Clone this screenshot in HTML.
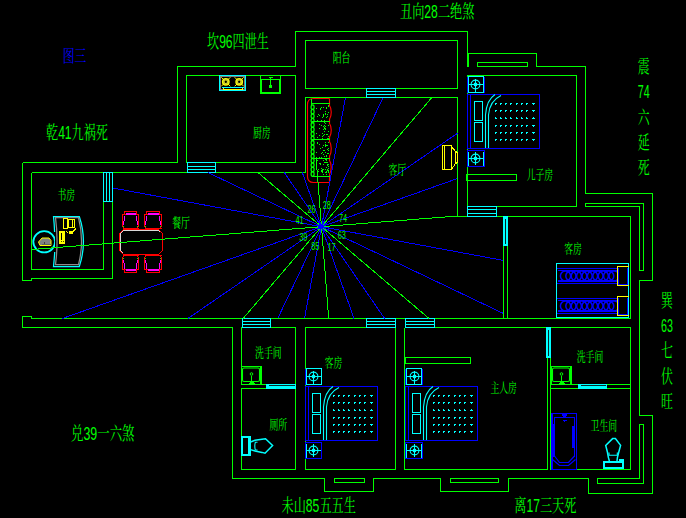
<!DOCTYPE html>
<html><head><meta charset="utf-8"><title>plan</title>
<style>html,body{margin:0;padding:0;background:#000;font-family:"Liberation Sans",sans-serif}svg{display:block}svg text{font-family:"Liberation Sans","Noto Serif CJK SC",serif}</style>
</head><body>
<svg width="686" height="518" viewBox="0 0 686 518" shape-rendering="crispEdges">
<defs></defs>
<rect width="686" height="518" fill="#000"/>
<path d="M22.5 162.5 L22.5 280.5 L31.5 280.5 L31.5 278.5 L112.5 278.5 L112.5 201.5" stroke="#00ff00" stroke-width="1" fill="none"/>
<path d="M31.5 172.5 L31.5 269.5 L103.5 269.5 L103.5 201.5" stroke="#00ff00" stroke-width="1" fill="none"/>
<path d="M31.5 172.5 L305.5 172.5" stroke="#00ff00" stroke-width="1" fill="none"/>
<path d="M22.5 162.5 L177.5 162.5 L177.5 66.5 L295.5 66.5 L295.5 31.5 L467.5 31.5 L467.5 66.5" stroke="#00ff00" stroke-width="1" fill="none"/>
<path d="M186.5 75.5 L295.5 75.5 L295.5 162.5 L186.5 162.5Z" stroke="#00ff00" stroke-width="1" fill="none"/>
<rect x="305.5" y="40.5" width="152" height="48" stroke="#00ff00" stroke-width="1" fill="none"/>
<path d="M305.5 172.5 L305.5 97.5 L457.5 97.5 L457.5 216.5" stroke="#00ff00" stroke-width="1" fill="none"/>
<path d="M468.5 66.5 L468.5 53.5 L536.5 53.5 L536.5 66.5 L585.5 66.5 L585.5 193.5 L652.5 193.5 L652.5 280.5 L639.5 280.5 L639.5 415.5 L652.5 415.5 L652.5 493.5 L588.5 493.5 L588.5 478.5 L508.5 478.5 L508.5 491.5 L440.5 491.5 L440.5 478.5 L373.5 478.5 L373.5 491.5 L324.5 491.5 L324.5 478.5 L232.5 478.5 L232.5 327.5 L22.5 327.5 L22.5 316.5 L31.5 316.5 L31.5 318.5 L630.5 318.5" stroke="#00ff00" stroke-width="1" fill="none"/>
<path d="M467.5 216.5 L467.5 75.5 L576.5 75.5 L576.5 206.5 L496.5 206.5" stroke="#00ff00" stroke-width="1" fill="none"/>
<path d="M457.5 216.5 L630.5 216.5 L630.5 318.5" stroke="#00ff00" stroke-width="1" fill="none"/>
<path d="M503.5 216.5 L503.5 318.5" stroke="#00ff00" stroke-width="1" fill="none"/>
<path d="M507.5 216.5 L507.5 318.5" stroke="#00ff00" stroke-width="1" fill="none"/>
<rect x="477.5" y="62.5" width="50" height="4" stroke="#00ff00" stroke-width="1" fill="none"/>
<path d="M585.5 203.5 L643.5 203.5 L643.5 270.5 L639.5 270.5 L639.5 206.5 L585.5 206.5Z" stroke="#00ff00" stroke-width="1" fill="none"/>
<path d="M643.5 424.5 L643.5 483.5 L597.5 483.5 L597.5 478.5 L639.5 478.5 L639.5 424.5Z" stroke="#00ff00" stroke-width="1" fill="none"/>
<rect x="334.5" y="478.5" width="30" height="4" stroke="#00ff00" stroke-width="1" fill="none"/>
<rect x="450.5" y="478.5" width="48" height="4" stroke="#00ff00" stroke-width="1" fill="none"/>
<rect x="466.5" y="174.5" width="50" height="6" stroke="#00ff00" stroke-width="1" fill="none"/>
<rect x="405.5" y="357.5" width="65" height="6" stroke="#00ff00" stroke-width="1" fill="none"/>
<path d="M241.5 327.5 L295.5 327.5 L295.5 384.5 L241.5 384.5Z" stroke="#00ff00" stroke-width="1" fill="none"/>
<path d="M241.5 388.5 L295.5 388.5 L295.5 469.5 L241.5 469.5Z" stroke="#00ff00" stroke-width="1" fill="none"/>
<rect x="305.5" y="327.5" width="90" height="142" stroke="#00ff00" stroke-width="1" fill="none"/>
<path d="M404.5 327.5 L404.5 469.5 L547.5 469.5 L547.5 327.5" stroke="#00ff00" stroke-width="1" fill="none"/>
<path d="M395.5 318.5 L395.5 327.5" stroke="#00ff00" stroke-width="1" fill="none"/>
<path d="M404.5 327.5 L630.5 327.5 L630.5 469.5 L550.5 469.5 L550.5 327.5" stroke="#00ff00" stroke-width="1" fill="none"/>
<path d="M550.5 384.5 L630.5 384.5" stroke="#00ff00" stroke-width="1" fill="none"/>
<path d="M550.5 388.5 L630.5 388.5" stroke="#00ff00" stroke-width="1" fill="none"/>
<rect x="103.5" y="172.5" width="9" height="29" stroke="#00ffff" stroke-width="1" fill="none"/>
<path d="M106.5 172.5 L106.5 201.5" stroke="#00ffff" stroke-width="1" fill="none"/>
<path d="M109.5 172.5 L109.5 201.5" stroke="#00ffff" stroke-width="1" fill="none"/>
<rect x="187.5" y="162.5" width="28" height="10" stroke="#00ffff" stroke-width="1" fill="none"/>
<path d="M187.5 166.5 L215.5 166.5" stroke="#00ffff" stroke-width="1" fill="none"/>
<path d="M187.5 169.5 L215.5 169.5" stroke="#00ffff" stroke-width="1" fill="none"/>
<rect x="366.5" y="88.5" width="29" height="9" stroke="#00ffff" stroke-width="1" fill="none"/>
<path d="M366.5 91.5 L395.5 91.5" stroke="#00ffff" stroke-width="1" fill="none"/>
<path d="M366.5 94.5 L395.5 94.5" stroke="#00ffff" stroke-width="1" fill="none"/>
<rect x="467.5" y="206.5" width="29" height="10" stroke="#00ffff" stroke-width="1" fill="none"/>
<path d="M467.5 209.5 L496.5 209.5" stroke="#00ffff" stroke-width="1" fill="none"/>
<path d="M467.5 213.5 L496.5 213.5" stroke="#00ffff" stroke-width="1" fill="none"/>
<rect x="242.5" y="318.5" width="28" height="9" stroke="#00ffff" stroke-width="1" fill="none"/>
<path d="M242.5 321.5 L270.5 321.5" stroke="#00ffff" stroke-width="1" fill="none"/>
<path d="M242.5 324.5 L270.5 324.5" stroke="#00ffff" stroke-width="1" fill="none"/>
<rect x="366.5" y="318.5" width="29" height="9" stroke="#00ffff" stroke-width="1" fill="none"/>
<path d="M366.5 321.5 L395.5 321.5" stroke="#00ffff" stroke-width="1" fill="none"/>
<path d="M366.5 324.5 L395.5 324.5" stroke="#00ffff" stroke-width="1" fill="none"/>
<rect x="405.5" y="318.5" width="29" height="9" stroke="#00ffff" stroke-width="1" fill="none"/>
<path d="M405.5 321.5 L434.5 321.5" stroke="#00ffff" stroke-width="1" fill="none"/>
<path d="M405.5 324.5 L434.5 324.5" stroke="#00ffff" stroke-width="1" fill="none"/>
<rect x="503.5" y="216.5" width="4" height="29" stroke="#00ffff" stroke-width="1" fill="#00ffff"/>
<path d="M505.5 218.5 L505.5 243.5" stroke="#002020" stroke-width="1" fill="none"/>
<rect x="546.5" y="327.5" width="4" height="30" stroke="#00ffff" stroke-width="1" fill="#00ffff"/>
<path d="M548.5 329.5 L548.5 355.5" stroke="#002828" stroke-width="1" fill="none"/>
<rect x="266.5" y="384.5" width="29" height="4" stroke="#00ffff" stroke-width="1" fill="#00ffff"/>
<path d="M268.5 385.5 L294.5 385.5" stroke="#003030" stroke-width="1" fill="none"/>
<rect x="578.5" y="384.5" width="28" height="4" stroke="#00ffff" stroke-width="1" fill="#00ffff"/>
<path d="M580.5 385.5 L605.5 385.5" stroke="#003030" stroke-width="1" fill="none"/>
<rect x="219.5" y="75.5" width="26" height="15" stroke="#00ffff" stroke-width="1" fill="none"/>
<rect x="220.5" y="76.5" width="24" height="13" stroke="#808080" stroke-width="1" fill="none"/>
<g shape-rendering="geometricPrecision"><path d="M221.3 77.3 l9 9 M230.3 77.3 l-9 9" stroke="#ffff00" stroke-width="1"/><circle cx="225.8" cy="81.8" r="3.9" fill="#ffff00"/><circle cx="225.8" cy="81.8" r="2.3" fill="none" stroke="#9a9a60" stroke-width="0.7"/><circle cx="225.8" cy="81.8" r="1.2" fill="#000"/></g>
<g shape-rendering="geometricPrecision"><path d="M234.7 77.3 l9 9 M243.7 77.3 l-9 9" stroke="#ffff00" stroke-width="1"/><circle cx="239.2" cy="81.8" r="3.9" fill="#ffff00"/><circle cx="239.2" cy="81.8" r="2.3" fill="none" stroke="#9a9a60" stroke-width="0.7"/><circle cx="239.2" cy="81.8" r="1.2" fill="#000"/></g>
<path d="M221.5 87.5 L243.5 87.5" stroke="#00ffff" stroke-width="1" fill="none"/>
<path d="M223.5 89.5 L242.5 89.5" stroke="#ffff00" stroke-width="1" fill="none"/>
<path d="M223.5 87.5 L223.5 89.5" stroke="#ffff00" stroke-width="1" fill="none"/>
<path d="M242.5 87.5 L242.5 89.5" stroke="#ffff00" stroke-width="1" fill="none"/>
<rect x="260.5" y="75.5" width="20" height="18" stroke="#00ff00" stroke-width="1" fill="none"/>
<rect x="261.5" y="79.5" width="18" height="13" stroke="#00ff00" stroke-width="1" fill="none"/>
<path d="M270.5 76.5 L270.5 86.5" stroke="#00ff00" stroke-width="1" fill="none"/>
<rect x="269.5" y="85.5" width="2" height="2" stroke="#00ff00" stroke-width="1" fill="none"/>
<path d="M268.5 77.5 L272.5 77.5" stroke="#00ff00" stroke-width="1" fill="none"/>
<path d="M329.5 98.5 H313.5 Q307.5 98.5 307.5 104.5 V176.5 Q307.5 182.5 313.5 182.5 H329.5" stroke="#ff0000" fill="none" shape-rendering="geometricPrecision" stroke-width="1.15"/>
<path d="M329.5 98.5 V103.5 L329.5 105.5 C331.8 108.5 331.8 115.5 329.6 119 L329.5 121.5 L329.5 123.5 C331.8 126.5 331.8 133.5 329.6 137 L329.5 139.5 L329.5 141.5 C331.8 144.5 331.8 152.5 329.6 156 L329.5 158.5 L329.5 160.5 C331.8 163.5 331.8 170.5 329.6 174 L329.5 176.5 V182.5" stroke="#ff0000" fill="none" shape-rendering="geometricPrecision" stroke-width="1.15"/>
<path d="M311.5 98.5 L311.5 104.5" stroke="#00ff00" stroke-width="1" fill="none"/>
<path d="M311.5 103.5 L329.5 103.5" stroke="#00ff00" stroke-width="1" fill="none"/>
<path d="M311.5 121.5 L329.5 121.5" stroke="#00ff00" stroke-width="1" fill="none"/>
<path d="M311.5 139.5 L329.5 139.5" stroke="#00ff00" stroke-width="1" fill="none"/>
<path d="M311.5 158.5 L329.5 158.5" stroke="#00ff00" stroke-width="1" fill="none"/>
<path d="M311.5 176.5 L329.5 176.5" stroke="#00ff00" stroke-width="1" fill="none"/>
<g stroke="#00ff00" fill="none" stroke-width="1.25" shape-rendering="geometricPrecision"><ellipse cx="312.6" cy="107.2" rx="1.5" ry="2.3"/><ellipse cx="312.6" cy="111.65" rx="1.5" ry="2.3"/><ellipse cx="312.6" cy="116.1" rx="1.5" ry="2.3"/><ellipse cx="312.6" cy="120.55" rx="1.5" ry="2.3"/><ellipse cx="312.6" cy="125" rx="1.5" ry="2.3"/><ellipse cx="312.6" cy="129.45" rx="1.5" ry="2.3"/><ellipse cx="312.6" cy="133.9" rx="1.5" ry="2.3"/><ellipse cx="312.6" cy="138.35" rx="1.5" ry="2.3"/><ellipse cx="312.6" cy="142.8" rx="1.5" ry="2.3"/><ellipse cx="312.6" cy="147.25" rx="1.5" ry="2.3"/><ellipse cx="312.6" cy="151.7" rx="1.5" ry="2.3"/><ellipse cx="312.6" cy="156.15" rx="1.5" ry="2.3"/><ellipse cx="312.6" cy="160.6" rx="1.5" ry="2.3"/><ellipse cx="312.6" cy="165.05" rx="1.5" ry="2.3"/><ellipse cx="312.6" cy="169.5" rx="1.5" ry="2.3"/><ellipse cx="312.6" cy="173.95" rx="1.5" ry="2.3"/></g>
<g fill="#00ff00"><rect x="326" y="156" width="1" height="1"/><rect x="327" y="170" width="1" height="1"/><rect x="327" y="169" width="1" height="1"/><rect x="317" y="137" width="1" height="1"/><rect x="328" y="150" width="1" height="1"/><rect x="328" y="112" width="1" height="1"/><rect x="324" y="122" width="1" height="1"/><rect x="325" y="145" width="1" height="1"/><rect x="317" y="120" width="1" height="1"/><rect x="322" y="169" width="1" height="1"/><rect x="327" y="116" width="1" height="1"/><rect x="327" y="114" width="1" height="1"/><rect x="325" y="113" width="1" height="1"/><rect x="316" y="165" width="1" height="1"/><rect x="321" y="120" width="1" height="1"/><rect x="328" y="166" width="1" height="1"/><rect x="322" y="172" width="1" height="1"/><rect x="325" y="152" width="1" height="1"/><rect x="321" y="170" width="1" height="1"/><rect x="326" y="172" width="1" height="1"/><rect x="328" y="125" width="1" height="1"/><rect x="323" y="116" width="1" height="1"/><rect x="320" y="109" width="1" height="1"/><rect x="322" y="147" width="1" height="1"/><rect x="316" y="152" width="1" height="1"/><rect x="323" y="126" width="1" height="1"/><rect x="327" y="138" width="1" height="1"/><rect x="322" y="138" width="1" height="1"/><rect x="326" y="108" width="1" height="1"/><rect x="328" y="106" width="1" height="1"/><rect x="327" y="164" width="1" height="1"/><rect x="317" y="160" width="1" height="1"/><rect x="323" y="145" width="1" height="1"/><rect x="316" y="108" width="1" height="1"/><rect x="321" y="171" width="1" height="1"/><rect x="321" y="157" width="1" height="1"/><rect x="328" y="170" width="1" height="1"/><rect x="323" y="129" width="1" height="1"/><rect x="325" y="159" width="1" height="1"/><rect x="319" y="157" width="1" height="1"/><rect x="327" y="165" width="1" height="1"/><rect x="318" y="171" width="1" height="1"/><rect x="319" y="128" width="1" height="1"/><rect x="325" y="169" width="1" height="1"/><rect x="323" y="169" width="1" height="1"/><rect x="325" y="126" width="1" height="1"/><rect x="322" y="117" width="1" height="1"/><rect x="319" y="115" width="1" height="1"/><rect x="326" y="174" width="1" height="1"/><rect x="320" y="108" width="1" height="1"/><rect x="328" y="142" width="1" height="1"/><rect x="323" y="121" width="1" height="1"/><rect x="325" y="162" width="1" height="1"/><rect x="324" y="134" width="1" height="1"/><rect x="318" y="169" width="1" height="1"/><rect x="317" y="139" width="1" height="1"/><rect x="327" y="114" width="1" height="1"/><rect x="326" y="171" width="1" height="1"/><rect x="326" y="160" width="1" height="1"/><rect x="319" y="135" width="1" height="1"/><rect x="320" y="164" width="1" height="1"/><rect x="322" y="136" width="1" height="1"/><rect x="328" y="164" width="1" height="1"/><rect x="328" y="136" width="1" height="1"/><rect x="324" y="156" width="1" height="1"/><rect x="324" y="125" width="1" height="1"/><rect x="323" y="115" width="1" height="1"/><rect x="323" y="174" width="1" height="1"/><rect x="328" y="148" width="1" height="1"/><rect x="324" y="128" width="1" height="1"/><rect x="319" y="124" width="1" height="1"/><rect x="327" y="165" width="1" height="1"/><rect x="323" y="160" width="1" height="1"/><rect x="327" y="153" width="1" height="1"/><rect x="326" y="158" width="1" height="1"/><rect x="323" y="154" width="1" height="1"/><rect x="322" y="138" width="1" height="1"/><rect x="327" y="153" width="1" height="1"/><rect x="322" y="171" width="1" height="1"/><rect x="326" y="145" width="1" height="1"/><rect x="317" y="143" width="1" height="1"/><rect x="322" y="152" width="1" height="1"/><rect x="324" y="162" width="1" height="1"/><rect x="326" y="160" width="1" height="1"/><rect x="323" y="150" width="1" height="1"/><rect x="326" y="162" width="1" height="1"/><rect x="323" y="164" width="1" height="1"/><rect x="328" y="153" width="1" height="1"/><rect x="328" y="171" width="1" height="1"/><rect x="325" y="142" width="1" height="1"/><rect x="320" y="163" width="1" height="1"/><rect x="328" y="138" width="1" height="1"/><rect x="326" y="155" width="1" height="1"/><rect x="326" y="117" width="1" height="1"/><rect x="327" y="145" width="1" height="1"/><rect x="326" y="134" width="1" height="1"/><rect x="326" y="159" width="1" height="1"/><rect x="326" y="155" width="1" height="1"/><rect x="317" y="116" width="1" height="1"/><rect x="324" y="150" width="1" height="1"/><rect x="321" y="153" width="1" height="1"/><rect x="326" y="107" width="1" height="1"/><rect x="324" y="120" width="1" height="1"/><rect x="318" y="114" width="1" height="1"/><rect x="322" y="117" width="1" height="1"/><rect x="321" y="107" width="1" height="1"/><rect x="324" y="131" width="1" height="1"/><rect x="325" y="146" width="1" height="1"/><rect x="321" y="168" width="1" height="1"/><rect x="316" y="133" width="1" height="1"/><rect x="322" y="133" width="1" height="1"/><rect x="319" y="163" width="1" height="1"/><rect x="323" y="107" width="1" height="1"/><rect x="325" y="111" width="1" height="1"/><rect x="325" y="128" width="1" height="1"/><rect x="325" y="172" width="1" height="1"/><rect x="327" y="134" width="1" height="1"/><rect x="327" y="149" width="1" height="1"/><rect x="323" y="114" width="1" height="1"/><rect x="325" y="144" width="1" height="1"/><rect x="328" y="172" width="1" height="1"/><rect x="325" y="129" width="1" height="1"/><rect x="328" y="105" width="1" height="1"/><rect x="319" y="144" width="1" height="1"/><rect x="325" y="114" width="1" height="1"/><rect x="326" y="167" width="1" height="1"/><rect x="323" y="135" width="1" height="1"/><rect x="321" y="125" width="1" height="1"/><rect x="328" y="131" width="1" height="1"/><rect x="328" y="168" width="1" height="1"/><rect x="325" y="123" width="1" height="1"/><rect x="328" y="139" width="1" height="1"/><rect x="324" y="127" width="1" height="1"/><rect x="328" y="139" width="1" height="1"/><rect x="322" y="138" width="1" height="1"/><rect x="320" y="148" width="1" height="1"/><rect x="324" y="125" width="1" height="1"/><rect x="327" y="162" width="1" height="1"/><rect x="317" y="142" width="1" height="1"/><rect x="322" y="170" width="1" height="1"/></g>
<rect x="442.5" y="145.5" width="9" height="24" stroke="#ffff00" stroke-width="1" fill="none"/>
<path d="M444.5 145.5 L444.5 169.5" stroke="#ffff00" stroke-width="1" fill="none"/>
<path d="M451.5 146.5 L455.5 151.5 L457.5 152.5 L457.5 162.5 L455.5 163.5 L451.5 169.5" stroke="#ffff00" stroke-width="1" fill="none"/>
<path d="M455.5 151.5 L455.5 163.5" stroke="#ffff00" stroke-width="1" fill="none"/>
<path d="M467.5 76.5 L467.5 92.5" stroke="#0000ff" stroke-width="1" fill="none"/>
<path d="M484.5 76.5 L484.5 92.5" stroke="#0000ff" stroke-width="1" fill="none"/>
<rect x="468.5" y="76.5" width="15" height="16" stroke="#00ffff" stroke-width="1" fill="none"/>
<circle cx="475.5" cy="84.5" r="4.4" stroke="#00ffff" fill="none" stroke-width="1.1" shape-rendering="geometricPrecision"/>
<circle cx="475.5" cy="84.5" r="1.9" fill="#00ffff" shape-rendering="geometricPrecision"/>
<path d="M468.5 84.5 L483.5 84.5" stroke="#00ffff" stroke-width="1" fill="none"/>
<path d="M475.5 78.5 L475.5 92.5" stroke="#00ffff" stroke-width="1" fill="none"/>
<rect x="467.5" y="94.5" width="72" height="54" stroke="#0000ff" stroke-width="1" fill="none"/>
<path d="M470.5 94.5 L470.5 148.5" stroke="#0000ff" stroke-width="1" fill="none"/>
<rect x="474.5" y="101.5" width="8" height="19" stroke="#00ffff" stroke-width="1" fill="none"/>
<rect x="474.5" y="122.5" width="8" height="19" stroke="#00ffff" stroke-width="1" fill="none"/>
<path d="M485.5 148 V115 Q486.5 100 495 94.5" stroke="#00ffff" fill="none" stroke-width="1.1" shape-rendering="geometricPrecision"/>
<path d="M488.5 148 V115 Q489.5 101 501 95.5" stroke="#00ffff" fill="none" stroke-width="1.1" shape-rendering="geometricPrecision"/>
<g fill="#00ffff"><path d="M495 103 h2 v1 h-1 v1 h-1z"/><path d="M500 103 h2 v1 h-1 v1 h-1z"/><path d="M505 103 h2 v1 h-1 v1 h-1z"/><path d="M510 103 h2 v1 h-1 v1 h-1z"/><path d="M516 103 h2 v1 h-1 v1 h-1z"/><path d="M521 103 h2 v1 h-1 v1 h-1z"/><path d="M526 103 h2 v1 h-1 v1 h-1z"/><path d="M532 103 h3 v1 h-1 v1 h-1 v-1 h-1z"/><path d="M495 110 h2 v1 h-1 v1 h-1z"/><path d="M500 110 h2 v1 h-1 v1 h-1z"/><path d="M505 110 h2 v1 h-1 v1 h-1z"/><path d="M510 110 h2 v1 h-1 v1 h-1z"/><path d="M516 110 h2 v1 h-1 v1 h-1z"/><path d="M521 110 h2 v1 h-1 v1 h-1z"/><path d="M526 110 h2 v1 h-1 v1 h-1z"/><path d="M532 110 h3 v1 h-1 v1 h-1 v-1 h-1z"/><path d="M495 117 h1 v1 h1 v1 h-2z"/><path d="M500 117 h1 v1 h1 v1 h-2z"/><path d="M505 117 h1 v1 h1 v1 h-2z"/><path d="M510 117 h1 v1 h1 v1 h-2z"/><path d="M516 117 h1 v1 h1 v1 h-2z"/><path d="M521 117 h1 v1 h1 v1 h-2z"/><path d="M526 117 h1 v1 h1 v1 h-2z"/><path d="M533 117 h1 v1 h1 v1 h-3 v-1 h1z"/><path d="M495 125 h2 v1 h-1 v1 h-1z"/><path d="M500 125 h2 v1 h-1 v1 h-1z"/><path d="M505 125 h2 v1 h-1 v1 h-1z"/><path d="M510 125 h2 v1 h-1 v1 h-1z"/><path d="M516 125 h2 v1 h-1 v1 h-1z"/><path d="M521 125 h2 v1 h-1 v1 h-1z"/><path d="M526 125 h2 v1 h-1 v1 h-1z"/><path d="M532 125 h3 v1 h-1 v1 h-1 v-1 h-1z"/><path d="M495 132 h2 v1 h-1 v1 h-1z"/><path d="M500 132 h2 v1 h-1 v1 h-1z"/><path d="M505 132 h2 v1 h-1 v1 h-1z"/><path d="M510 132 h2 v1 h-1 v1 h-1z"/><path d="M516 132 h2 v1 h-1 v1 h-1z"/><path d="M521 132 h2 v1 h-1 v1 h-1z"/><path d="M526 132 h2 v1 h-1 v1 h-1z"/><path d="M532 132 h3 v1 h-1 v1 h-1 v-1 h-1z"/><path d="M495 139 h2 v1 h-1 v1 h-1z"/><path d="M500 139 h2 v1 h-1 v1 h-1z"/><path d="M505 139 h2 v1 h-1 v1 h-1z"/><path d="M510 139 h2 v1 h-1 v1 h-1z"/><path d="M516 139 h2 v1 h-1 v1 h-1z"/><path d="M521 139 h2 v1 h-1 v1 h-1z"/><path d="M526 139 h2 v1 h-1 v1 h-1z"/><path d="M532 139 h3 v1 h-1 v1 h-1 v-1 h-1z"/></g>
<rect x="467.5" y="150.5" width="17" height="16" stroke="#0000ff" stroke-width="1" fill="none"/>
<path d="M468.5 151.5 L468.5 165.5" stroke="#00ffff" stroke-width="1" fill="none"/>
<path d="M483.5 151.5 L483.5 165.5" stroke="#00ffff" stroke-width="1" fill="none"/>
<circle cx="475.5" cy="158.5" r="4.4" stroke="#00ffff" fill="none" stroke-width="1.1" shape-rendering="geometricPrecision"/>
<circle cx="475.5" cy="158.5" r="1.9" fill="#00ffff" shape-rendering="geometricPrecision"/>
<path d="M468.5 158.5 L483.5 158.5" stroke="#00ffff" stroke-width="1" fill="none"/>
<path d="M475.5 151.5 L475.5 164.5" stroke="#00ffff" stroke-width="1" fill="none"/>
<path d="M305.5 368.5 L305.5 384.5" stroke="#0000ff" stroke-width="1" fill="none"/>
<rect x="306.5" y="368.5" width="15" height="16" stroke="#00ffff" stroke-width="1" fill="none"/>
<circle cx="313.5" cy="376.5" r="4.4" stroke="#00ffff" fill="none" stroke-width="1.1" shape-rendering="geometricPrecision"/>
<circle cx="313.5" cy="376.5" r="1.9" fill="#00ffff" shape-rendering="geometricPrecision"/>
<path d="M306.5 376.5 L321.5 376.5" stroke="#00ffff" stroke-width="1" fill="none"/>
<path d="M313.5 370.5 L313.5 384.5" stroke="#00ffff" stroke-width="1" fill="none"/>
<rect x="305.5" y="386.5" width="72" height="54" stroke="#0000ff" stroke-width="1" fill="none"/>
<path d="M308.5 386.5 L308.5 440.5" stroke="#0000ff" stroke-width="1" fill="none"/>
<rect x="312.5" y="393.5" width="8" height="19" stroke="#00ffff" stroke-width="1" fill="none"/>
<rect x="312.5" y="414.5" width="8" height="19" stroke="#00ffff" stroke-width="1" fill="none"/>
<path d="M323.5 440 V407 Q324.5 392 333 386.5" stroke="#00ffff" fill="none" stroke-width="1.1" shape-rendering="geometricPrecision"/>
<path d="M326.5 440 V407 Q327.5 393 339 387.5" stroke="#00ffff" fill="none" stroke-width="1.1" shape-rendering="geometricPrecision"/>
<g fill="#00ffff"><path d="M333 395 h2 v1 h-1 v1 h-1z"/><path d="M338 395 h2 v1 h-1 v1 h-1z"/><path d="M343 395 h2 v1 h-1 v1 h-1z"/><path d="M348 395 h2 v1 h-1 v1 h-1z"/><path d="M354 395 h2 v1 h-1 v1 h-1z"/><path d="M359 395 h2 v1 h-1 v1 h-1z"/><path d="M364 395 h2 v1 h-1 v1 h-1z"/><path d="M370 395 h3 v1 h-1 v1 h-1 v-1 h-1z"/><path d="M333 402 h2 v1 h-1 v1 h-1z"/><path d="M338 402 h2 v1 h-1 v1 h-1z"/><path d="M343 402 h2 v1 h-1 v1 h-1z"/><path d="M348 402 h2 v1 h-1 v1 h-1z"/><path d="M354 402 h2 v1 h-1 v1 h-1z"/><path d="M359 402 h2 v1 h-1 v1 h-1z"/><path d="M364 402 h2 v1 h-1 v1 h-1z"/><path d="M370 402 h3 v1 h-1 v1 h-1 v-1 h-1z"/><path d="M333 409 h1 v1 h1 v1 h-2z"/><path d="M338 409 h1 v1 h1 v1 h-2z"/><path d="M343 409 h1 v1 h1 v1 h-2z"/><path d="M348 409 h1 v1 h1 v1 h-2z"/><path d="M354 409 h1 v1 h1 v1 h-2z"/><path d="M359 409 h1 v1 h1 v1 h-2z"/><path d="M364 409 h1 v1 h1 v1 h-2z"/><path d="M371 409 h1 v1 h1 v1 h-3 v-1 h1z"/><path d="M333 417 h2 v1 h-1 v1 h-1z"/><path d="M338 417 h2 v1 h-1 v1 h-1z"/><path d="M343 417 h2 v1 h-1 v1 h-1z"/><path d="M348 417 h2 v1 h-1 v1 h-1z"/><path d="M354 417 h2 v1 h-1 v1 h-1z"/><path d="M359 417 h2 v1 h-1 v1 h-1z"/><path d="M364 417 h2 v1 h-1 v1 h-1z"/><path d="M370 417 h3 v1 h-1 v1 h-1 v-1 h-1z"/><path d="M333 424 h2 v1 h-1 v1 h-1z"/><path d="M338 424 h2 v1 h-1 v1 h-1z"/><path d="M343 424 h2 v1 h-1 v1 h-1z"/><path d="M348 424 h2 v1 h-1 v1 h-1z"/><path d="M354 424 h2 v1 h-1 v1 h-1z"/><path d="M359 424 h2 v1 h-1 v1 h-1z"/><path d="M364 424 h2 v1 h-1 v1 h-1z"/><path d="M370 424 h3 v1 h-1 v1 h-1 v-1 h-1z"/><path d="M333 431 h2 v1 h-1 v1 h-1z"/><path d="M338 431 h2 v1 h-1 v1 h-1z"/><path d="M343 431 h2 v1 h-1 v1 h-1z"/><path d="M348 431 h2 v1 h-1 v1 h-1z"/><path d="M354 431 h2 v1 h-1 v1 h-1z"/><path d="M359 431 h2 v1 h-1 v1 h-1z"/><path d="M364 431 h2 v1 h-1 v1 h-1z"/><path d="M370 431 h3 v1 h-1 v1 h-1 v-1 h-1z"/></g>
<rect x="305.5" y="442.5" width="16" height="16" stroke="#0000ff" stroke-width="1" fill="none"/>
<path d="M306.5 443.5 L306.5 457.5" stroke="#00ffff" stroke-width="1" fill="none"/>
<circle cx="313.5" cy="450.5" r="4.4" stroke="#00ffff" fill="none" stroke-width="1.1" shape-rendering="geometricPrecision"/>
<circle cx="313.5" cy="450.5" r="1.9" fill="#00ffff" shape-rendering="geometricPrecision"/>
<path d="M306.5 450.5 L320.5 450.5" stroke="#00ffff" stroke-width="1" fill="none"/>
<path d="M313.5 443.5 L313.5 456.5" stroke="#00ffff" stroke-width="1" fill="none"/>
<path d="M405.5 368.5 L405.5 384.5" stroke="#0000ff" stroke-width="1" fill="none"/>
<path d="M422.5 368.5 L422.5 384.5" stroke="#0000ff" stroke-width="1" fill="none"/>
<rect x="406.5" y="368.5" width="15" height="16" stroke="#00ffff" stroke-width="1" fill="none"/>
<circle cx="414.5" cy="376.5" r="4.4" stroke="#00ffff" fill="none" stroke-width="1.1" shape-rendering="geometricPrecision"/>
<circle cx="414.5" cy="376.5" r="1.9" fill="#00ffff" shape-rendering="geometricPrecision"/>
<path d="M406.5 376.5 L421.5 376.5" stroke="#00ffff" stroke-width="1" fill="none"/>
<path d="M414.5 370.5 L414.5 384.5" stroke="#00ffff" stroke-width="1" fill="none"/>
<rect x="405.5" y="386.5" width="72" height="54" stroke="#0000ff" stroke-width="1" fill="none"/>
<path d="M408.5 386.5 L408.5 440.5" stroke="#0000ff" stroke-width="1" fill="none"/>
<rect x="412.5" y="393.5" width="8" height="19" stroke="#00ffff" stroke-width="1" fill="none"/>
<rect x="412.5" y="414.5" width="8" height="19" stroke="#00ffff" stroke-width="1" fill="none"/>
<path d="M423.5 440 V407 Q424.5 392 433 386.5" stroke="#00ffff" fill="none" stroke-width="1.1" shape-rendering="geometricPrecision"/>
<path d="M426.5 440 V407 Q427.5 393 439 387.5" stroke="#00ffff" fill="none" stroke-width="1.1" shape-rendering="geometricPrecision"/>
<g fill="#00ffff"><path d="M433 395 h2 v1 h-1 v1 h-1z"/><path d="M438 395 h2 v1 h-1 v1 h-1z"/><path d="M443 395 h2 v1 h-1 v1 h-1z"/><path d="M448 395 h2 v1 h-1 v1 h-1z"/><path d="M454 395 h2 v1 h-1 v1 h-1z"/><path d="M459 395 h2 v1 h-1 v1 h-1z"/><path d="M464 395 h2 v1 h-1 v1 h-1z"/><path d="M470 395 h3 v1 h-1 v1 h-1 v-1 h-1z"/><path d="M433 402 h2 v1 h-1 v1 h-1z"/><path d="M438 402 h2 v1 h-1 v1 h-1z"/><path d="M443 402 h2 v1 h-1 v1 h-1z"/><path d="M448 402 h2 v1 h-1 v1 h-1z"/><path d="M454 402 h2 v1 h-1 v1 h-1z"/><path d="M459 402 h2 v1 h-1 v1 h-1z"/><path d="M464 402 h2 v1 h-1 v1 h-1z"/><path d="M470 402 h3 v1 h-1 v1 h-1 v-1 h-1z"/><path d="M433 409 h1 v1 h1 v1 h-2z"/><path d="M438 409 h1 v1 h1 v1 h-2z"/><path d="M443 409 h1 v1 h1 v1 h-2z"/><path d="M448 409 h1 v1 h1 v1 h-2z"/><path d="M454 409 h1 v1 h1 v1 h-2z"/><path d="M459 409 h1 v1 h1 v1 h-2z"/><path d="M464 409 h1 v1 h1 v1 h-2z"/><path d="M471 409 h1 v1 h1 v1 h-3 v-1 h1z"/><path d="M433 417 h2 v1 h-1 v1 h-1z"/><path d="M438 417 h2 v1 h-1 v1 h-1z"/><path d="M443 417 h2 v1 h-1 v1 h-1z"/><path d="M448 417 h2 v1 h-1 v1 h-1z"/><path d="M454 417 h2 v1 h-1 v1 h-1z"/><path d="M459 417 h2 v1 h-1 v1 h-1z"/><path d="M464 417 h2 v1 h-1 v1 h-1z"/><path d="M470 417 h3 v1 h-1 v1 h-1 v-1 h-1z"/><path d="M433 424 h2 v1 h-1 v1 h-1z"/><path d="M438 424 h2 v1 h-1 v1 h-1z"/><path d="M443 424 h2 v1 h-1 v1 h-1z"/><path d="M448 424 h2 v1 h-1 v1 h-1z"/><path d="M454 424 h2 v1 h-1 v1 h-1z"/><path d="M459 424 h2 v1 h-1 v1 h-1z"/><path d="M464 424 h2 v1 h-1 v1 h-1z"/><path d="M470 424 h3 v1 h-1 v1 h-1 v-1 h-1z"/><path d="M433 431 h2 v1 h-1 v1 h-1z"/><path d="M438 431 h2 v1 h-1 v1 h-1z"/><path d="M443 431 h2 v1 h-1 v1 h-1z"/><path d="M448 431 h2 v1 h-1 v1 h-1z"/><path d="M454 431 h2 v1 h-1 v1 h-1z"/><path d="M459 431 h2 v1 h-1 v1 h-1z"/><path d="M464 431 h2 v1 h-1 v1 h-1z"/><path d="M470 431 h3 v1 h-1 v1 h-1 v-1 h-1z"/></g>
<rect x="405.5" y="442.5" width="17" height="16" stroke="#0000ff" stroke-width="1" fill="none"/>
<path d="M406.5 443.5 L406.5 457.5" stroke="#00ffff" stroke-width="1" fill="none"/>
<path d="M421.5 443.5 L421.5 457.5" stroke="#00ffff" stroke-width="1" fill="none"/>
<circle cx="414.5" cy="450.5" r="4.4" stroke="#00ffff" fill="none" stroke-width="1.1" shape-rendering="geometricPrecision"/>
<circle cx="414.5" cy="450.5" r="1.9" fill="#00ffff" shape-rendering="geometricPrecision"/>
<path d="M406.5 450.5 L421.5 450.5" stroke="#00ffff" stroke-width="1" fill="none"/>
<path d="M414.5 443.5 L414.5 456.5" stroke="#00ffff" stroke-width="1" fill="none"/>
<rect x="556.5" y="263.5" width="72" height="54" stroke="#00ffff" stroke-width="1" fill="none"/>
<path d="M556.5 268.5 L617.5 268.5" stroke="#0000ff" stroke-width="1" fill="none"/>
<path d="M556.5 283.5 L617.5 283.5" stroke="#0000ff" stroke-width="1" fill="none"/>
<path d="M557.5 270.5 L617.5 270.5" stroke="#0000ff" stroke-width="1" fill="none"/>
<path d="M557.5 281.5 L617.5 281.5Z" stroke="#0000ff" stroke-width="1" fill="none"/>
<path d="M557.5 280.5 L617.5 280.5Z" stroke="#0000ff" stroke-width="1" fill="none"/>
<clipPath id="q268"><rect x="557" y="270" width="60" height="12"/></clipPath>
<g stroke="#0000ff" fill="none" stroke-width="1.5" clip-path="url(#q268)" shape-rendering="geometricPrecision"><circle cx="565.5" cy="276" r="5.1"/><circle cx="570.9" cy="276" r="5.1"/><circle cx="576.3" cy="276" r="5.1"/><circle cx="581.7" cy="276" r="5.1"/><circle cx="587.1" cy="276" r="5.1"/><circle cx="592.5" cy="276" r="5.1"/><circle cx="597.9" cy="276" r="5.1"/><circle cx="603.3" cy="276" r="5.1"/><circle cx="608.7" cy="276" r="5.1"/><circle cx="614.1" cy="276" r="5.1"/></g>
<path d="M556.5 298.5 L617.5 298.5" stroke="#0000ff" stroke-width="1" fill="none"/>
<path d="M556.5 313.5 L617.5 313.5" stroke="#0000ff" stroke-width="1" fill="none"/>
<path d="M557.5 300.5 L617.5 300.5" stroke="#0000ff" stroke-width="1" fill="none"/>
<path d="M557.5 311.5 L617.5 311.5Z" stroke="#0000ff" stroke-width="1" fill="none"/>
<path d="M557.5 310.5 L617.5 310.5Z" stroke="#0000ff" stroke-width="1" fill="none"/>
<clipPath id="q298"><rect x="557" y="300" width="60" height="12"/></clipPath>
<g stroke="#0000ff" fill="none" stroke-width="1.5" clip-path="url(#q298)" shape-rendering="geometricPrecision"><circle cx="565.5" cy="306" r="5.1"/><circle cx="570.9" cy="306" r="5.1"/><circle cx="576.3" cy="306" r="5.1"/><circle cx="581.7" cy="306" r="5.1"/><circle cx="587.1" cy="306" r="5.1"/><circle cx="592.5" cy="306" r="5.1"/><circle cx="597.9" cy="306" r="5.1"/><circle cx="603.3" cy="306" r="5.1"/><circle cx="608.7" cy="306" r="5.1"/><circle cx="614.1" cy="306" r="5.1"/></g>
<path d="M628.5 266.5 L617.5 266.5 L617.5 285.5 L628.5 285.5" stroke="#ffff00" stroke-width="1" fill="none"/>
<path d="M628.5 296.5 L617.5 296.5 L617.5 315.5 L628.5 315.5" stroke="#ffff00" stroke-width="1" fill="none"/>
<path d="M618.5 267.5 L618.5 284.5 L627.5 284.5 L627.5 267.5" stroke="#0000ff" stroke-width="1" fill="none"/>
<path d="M618.5 297.5 L618.5 314.5 L627.5 314.5 L627.5 297.5" stroke="#0000ff" stroke-width="1" fill="none"/>
<path d="M123.5 229.5 H158.5 L162.5 233.5 V250.5 L158.5 254.5 H123.5 L119.5 250.5 V233.5Z" stroke="#ff0000" fill="none"/>
<path d="M123.5 253.5 L120.5 250.5 V233.5 L123.5 230.5 H158.5 L160.5 232.5" stroke="#d8d8d8" fill="none"/>
<path d="M124.5 228.5 L122.5 226.5 L122.5 214.5 L124.5 214.5 L124.5 211.5 L136.5 211.5 L136.5 214.5 L138.5 214.5 L138.5 226.5 L136.5 228.5" stroke="#ff0000" stroke-width="1" fill="none"/>
<path d="M122.5 228.5 L138.5 228.5" stroke="#ff0000" stroke-width="1" fill="none"/>
<path d="M124.5 214.5 L136.5 214.5" stroke="#ff0000" stroke-width="1" fill="none"/>
<path d="M125.5 213.5 L135.5 213.5" stroke="#ff00ff" stroke-width="1" fill="none"/>
<path d="M125.5 214.5 L135.5 214.5" stroke="#ff00ff" stroke-width="1" fill="none"/>
<path d="M124.5 215.5 L124.5 220.5 L123.5 221.5 L123.5 224.5" stroke="#ff00ff" stroke-width="1" fill="none"/>
<path d="M136.5 215.5 L136.5 220.5 L137.5 221.5 L137.5 224.5" stroke="#ff00ff" stroke-width="1" fill="none"/>
<path d="M123.5 225.5 L123.5 226.5" stroke="#00ff00" stroke-width="1" fill="none"/>
<path d="M137.5 225.5 L137.5 226.5" stroke="#00ff00" stroke-width="1" fill="none"/>
<path d="M146.5 228.5 L144.5 226.5 L144.5 214.5 L146.5 214.5 L146.5 211.5 L159.5 211.5 L159.5 214.5 L161.5 214.5 L161.5 226.5 L159.5 228.5" stroke="#ff0000" stroke-width="1" fill="none"/>
<path d="M144.5 228.5 L161.5 228.5" stroke="#ff0000" stroke-width="1" fill="none"/>
<path d="M146.5 214.5 L159.5 214.5" stroke="#ff0000" stroke-width="1" fill="none"/>
<path d="M147.5 213.5 L158.5 213.5" stroke="#ff00ff" stroke-width="1" fill="none"/>
<path d="M147.5 214.5 L158.5 214.5" stroke="#ff00ff" stroke-width="1" fill="none"/>
<path d="M146.5 215.5 L146.5 220.5 L145.5 221.5 L145.5 224.5" stroke="#ff00ff" stroke-width="1" fill="none"/>
<path d="M159.5 215.5 L159.5 220.5 L160.5 221.5 L160.5 224.5" stroke="#ff00ff" stroke-width="1" fill="none"/>
<path d="M145.5 225.5 L145.5 226.5" stroke="#00ff00" stroke-width="1" fill="none"/>
<path d="M160.5 225.5 L160.5 226.5" stroke="#00ff00" stroke-width="1" fill="none"/>
<path d="M124.5 255.5 L122.5 257.5 L122.5 269.5 L124.5 269.5 L124.5 272.5 L136.5 272.5 L136.5 269.5 L138.5 269.5 L138.5 257.5 L136.5 255.5" stroke="#ff0000" stroke-width="1" fill="none"/>
<path d="M122.5 255.5 L138.5 255.5" stroke="#ff0000" stroke-width="1" fill="none"/>
<path d="M124.5 269.5 L136.5 269.5" stroke="#ff0000" stroke-width="1" fill="none"/>
<path d="M125.5 270.5 L135.5 270.5" stroke="#ff00ff" stroke-width="1" fill="none"/>
<path d="M125.5 269.5 L135.5 269.5" stroke="#ff00ff" stroke-width="1" fill="none"/>
<path d="M124.5 268.5 L124.5 263.5 L123.5 262.5 L123.5 259.5" stroke="#ff00ff" stroke-width="1" fill="none"/>
<path d="M136.5 268.5 L136.5 263.5 L137.5 262.5 L137.5 259.5" stroke="#ff00ff" stroke-width="1" fill="none"/>
<path d="M123.5 257.5 L123.5 258.5" stroke="#00ff00" stroke-width="1" fill="none"/>
<path d="M137.5 257.5 L137.5 258.5" stroke="#00ff00" stroke-width="1" fill="none"/>
<path d="M146.5 255.5 L144.5 257.5 L144.5 269.5 L146.5 269.5 L146.5 272.5 L159.5 272.5 L159.5 269.5 L161.5 269.5 L161.5 257.5 L159.5 255.5" stroke="#ff0000" stroke-width="1" fill="none"/>
<path d="M144.5 255.5 L161.5 255.5" stroke="#ff0000" stroke-width="1" fill="none"/>
<path d="M146.5 269.5 L159.5 269.5" stroke="#ff0000" stroke-width="1" fill="none"/>
<path d="M147.5 270.5 L158.5 270.5" stroke="#ff00ff" stroke-width="1" fill="none"/>
<path d="M147.5 269.5 L158.5 269.5" stroke="#ff00ff" stroke-width="1" fill="none"/>
<path d="M146.5 268.5 L146.5 263.5 L145.5 262.5 L145.5 259.5" stroke="#ff00ff" stroke-width="1" fill="none"/>
<path d="M159.5 268.5 L159.5 263.5 L160.5 262.5 L160.5 259.5" stroke="#ff00ff" stroke-width="1" fill="none"/>
<path d="M145.5 257.5 L145.5 258.5" stroke="#00ff00" stroke-width="1" fill="none"/>
<path d="M160.5 257.5 L160.5 258.5" stroke="#00ff00" stroke-width="1" fill="none"/>
<clipPath id="cc"><rect x="0" y="200" width="55" height="80"/></clipPath>
<ellipse cx="44.2" cy="241.8" rx="10.9" ry="10.6" stroke="#00ffff" stroke-width="1.8" fill="none" clip-path="url(#cc)" shape-rendering="geometricPrecision"/>
<path d="M54.6 232 Q54.3 224 53.5 216.5 H79.3 Q87.6 241.5 79.3 266.5 H53.5 Q54.3 259 54.7 252" stroke="#00ffff" fill="none" shape-rendering="geometricPrecision" stroke-width="1.25"/>
<path d="M55.5 217.7 H78.5 Q84.6 241 78.5 264.6 H55.5 Q58.6 241 55.5 217.7Z" stroke="#8c8c8c" fill="none" shape-rendering="geometricPrecision" stroke-width="1.25"/>
<path d="M38.5 242 L42 238 H49 L51 240.5 V245.5 H40Z" stroke="#ffff00" fill="#808080" shape-rendering="geometricPrecision"/>
<path d="M44.5 241.5 L44.5 244.5" stroke="#404040" stroke-width="1" fill="none"/>
<path d="M41.5 244.5 L50.5 244.5" stroke="#606060" stroke-width="1" fill="none"/>
<rect x="63.5" y="218.5" width="4" height="10" stroke="#ffff00" stroke-width="1" fill="none"/>
<rect x="68.5" y="219.5" width="6" height="8" stroke="#ffff00" stroke-width="1" fill="none"/>
<path d="M72.5 219.5 L72.5 227.5" stroke="#ffff00" stroke-width="1" fill="none"/>
<path d="M74.5 227.5 L75.5 228.5 L74.5 230.5 L72.5 231.5" stroke="#ffff00" stroke-width="1" fill="none"/>
<rect x="69" y="231" width="4" height="3" fill="#ffff00"/>
<path d="M66.5 231.5 L67.5 232.5 L68.5 233.5" stroke="#ffff00" stroke-width="1" fill="none"/>
<rect x="59" y="231" width="6" height="13" fill="#ffff00"/><rect x="61" y="233" width="1" height="7" fill="#000"/><rect x="61" y="241" width="1" height="1" fill="#444400"/><rect x="63" y="241" width="1" height="1" fill="#444400"/>
<rect x="241.5" y="366.5" width="20" height="18" stroke="#00ff00" stroke-width="1" fill="none"/>
<rect x="242.5" y="368" width="17" height="13.5" rx="1.5" stroke="#00ff00" fill="none" shape-rendering="geometricPrecision" stroke-width="1.1"/>
<path d="M260.5 366.5 L260.5 384.5" stroke="#00ff00" stroke-width="1" fill="none"/>
<path d="M251.5 375.5 L251.5 384.5" stroke="#00ff00" stroke-width="1" fill="none"/>
<circle cx="251.5" cy="374" r="1.3" stroke="#00ff00" fill="none" shape-rendering="geometricPrecision"/>
<path d="M250.5 381.5 L252.5 381.5" stroke="#00ff00" stroke-width="1" fill="none"/>
<path d="M249.5 382.5 L253.5 382.5" stroke="#00ff00" stroke-width="1" fill="none"/>
<path d="M248.5 383.5 L254.5 383.5" stroke="#00ff00" stroke-width="1" fill="none"/>
<rect x="551.5" y="366.5" width="20" height="18" stroke="#00ff00" stroke-width="1" fill="none"/>
<rect x="552.5" y="368" width="17" height="13.5" rx="1.5" stroke="#00ff00" fill="none" shape-rendering="geometricPrecision" stroke-width="1.1"/>
<path d="M570.5 366.5 L570.5 384.5" stroke="#00ff00" stroke-width="1" fill="none"/>
<path d="M561.5 375.5 L561.5 384.5" stroke="#00ff00" stroke-width="1" fill="none"/>
<circle cx="561.5" cy="374" r="1.3" stroke="#00ff00" fill="none" shape-rendering="geometricPrecision"/>
<path d="M560.5 381.5 L562.5 381.5" stroke="#00ff00" stroke-width="1" fill="none"/>
<path d="M559.5 382.5 L563.5 382.5" stroke="#00ff00" stroke-width="1" fill="none"/>
<path d="M558.5 383.5 L564.5 383.5" stroke="#00ff00" stroke-width="1" fill="none"/>
<rect x="241" y="436" width="10" height="20" fill="#00ffff"/><rect x="243" y="438" width="5" height="16" fill="#000"/>
<path d="M250.5 442 L255 440.3 L262 439.2 L265.5 438.7 L272.6 445.4 L265 453.2 L262 452.4 L255 451 L250.5 449.6" stroke="#00ffff" fill="none" shape-rendering="geometricPrecision" stroke-width="1.5"/>
<path d="M257.5 442.3 H255.3 Q254.3 446 255.3 450 H257.5" stroke="#00ffff" fill="none" shape-rendering="geometricPrecision" stroke-width="1.1"/>
<rect x="603" y="461" width="21" height="8" fill="#00ffff"/><rect x="605" y="463" width="17" height="4" fill="#000"/><rect x="619" y="459" width="5" height="2" fill="#00ffff"/>
<path d="M609.4 461 L608.4 457.6 L607.4 452 L605.7 445.4 L612.6 438.6 L615.4 438.6 L620.6 445.4 L618.8 452 L617.4 457.6 L617 461" stroke="#00ffff" fill="none" shape-rendering="geometricPrecision" stroke-width="1.5"/>
<path d="M609 452.5 V455.3 H617.3 V452.5" stroke="#00ffff" fill="none" shape-rendering="geometricPrecision" stroke-width="1.1"/>
<rect x="551.5" y="413.5" width="25" height="56" stroke="#0000ff" stroke-width="1" fill="none"/>
<path d="M552.5 413.5 L552.5 469.5" stroke="#0000ff" stroke-width="1" fill="none"/>
<rect x="551" y="424" width="4" height="33" fill="#0000ff"/><rect x="572" y="426" width="3" height="22" fill="#0000ff"/>
<path d="M554.5 424 V417.5 H574.5 V456.5" stroke="#0000ff" fill="none"/>
<path d="M554.5 456 L559.5 462.5 H568.5 L574.5 456 M552.5 459.5 L559.5 465.5 H568.5 L575.5 459.5" stroke="#0000ff" fill="none" stroke-width="1.2" shape-rendering="geometricPrecision"/>
<rect x="562" y="414" width="5" height="2" fill="#0000ff"/><rect x="563" y="416" width="3" height="1" fill="#0000ff"/>
<path d="M562.5 420.5 L566.5 420.5" stroke="#0000ff" stroke-width="1" fill="none"/>
<path d="M564.5 419.5 L564.5 421.5" stroke="#0000ff" stroke-width="1" fill="none"/>
<line x1="321.50" y1="226.70" x2="316.05" y2="157.50" stroke="#00ff00" stroke-width="1"/>
<line x1="321.50" y1="226.70" x2="431.85" y2="97.50" stroke="#00ff00" stroke-width="1"/>
<line x1="321.50" y1="226.70" x2="457.50" y2="216.00" stroke="#00ff00" stroke-width="1"/>
<line x1="321.50" y1="226.70" x2="428.98" y2="318.50" stroke="#00ff00" stroke-width="1"/>
<line x1="321.50" y1="226.70" x2="328.72" y2="318.50" stroke="#00ff00" stroke-width="1"/>
<line x1="321.50" y1="226.70" x2="243.10" y2="318.50" stroke="#00ff00" stroke-width="1"/>
<line x1="321.50" y1="226.70" x2="31.50" y2="249.52" stroke="#00ff00" stroke-width="1"/>
<line x1="321.50" y1="226.70" x2="258.04" y2="172.50" stroke="#00ff00" stroke-width="1"/>
<line x1="321.50" y1="226.70" x2="345.45" y2="97.50" stroke="#0000ff" stroke-width="1"/>
<line x1="321.50" y1="226.70" x2="383.13" y2="97.50" stroke="#0000ff" stroke-width="1"/>
<line x1="321.50" y1="226.70" x2="457.50" y2="133.23" stroke="#0000ff" stroke-width="1"/>
<line x1="321.50" y1="226.70" x2="457.50" y2="178.54" stroke="#0000ff" stroke-width="1"/>
<line x1="321.50" y1="226.70" x2="503.50" y2="260.43" stroke="#0000ff" stroke-width="1"/>
<line x1="321.50" y1="226.70" x2="503.50" y2="313.51" stroke="#0000ff" stroke-width="1"/>
<line x1="321.50" y1="226.70" x2="384.59" y2="318.50" stroke="#0000ff" stroke-width="1"/>
<line x1="321.50" y1="226.70" x2="354.01" y2="318.50" stroke="#0000ff" stroke-width="1"/>
<line x1="321.50" y1="226.70" x2="304.49" y2="318.50" stroke="#0000ff" stroke-width="1"/>
<line x1="321.50" y1="226.70" x2="277.71" y2="318.50" stroke="#0000ff" stroke-width="1"/>
<line x1="321.50" y1="226.70" x2="187.93" y2="318.50" stroke="#0000ff" stroke-width="1"/>
<line x1="321.50" y1="226.70" x2="62.26" y2="318.50" stroke="#0000ff" stroke-width="1"/>
<line x1="321.50" y1="226.70" x2="112.50" y2="187.96" stroke="#0000ff" stroke-width="1"/>
<line x1="321.50" y1="226.70" x2="207.87" y2="172.50" stroke="#0000ff" stroke-width="1"/>
<line x1="321.50" y1="226.70" x2="284.25" y2="172.50" stroke="#0000ff" stroke-width="1"/>
<line x1="321.50" y1="226.70" x2="302.31" y2="172.50" stroke="#0000ff" stroke-width="1"/>
<text x="62.8" y="61.9" font-size="17.5" fill="#0000ff" textLength="23.6" lengthAdjust="spacingAndGlyphs">图三</text>
<text x="207" y="47.88" font-size="17.7" fill="#00ff00" textLength="62" lengthAdjust="spacingAndGlyphs">坎96四泄生</text>
<text x="400" y="18.28" font-size="17.7" fill="#00ff00" textLength="74.4" lengthAdjust="spacingAndGlyphs">丑向28二绝煞</text>
<text x="46" y="139.08" font-size="17.7" fill="#00ff00" textLength="62" lengthAdjust="spacingAndGlyphs">乾41九祸死</text>
<text x="71" y="440.22" font-size="18.2" fill="#00ff00" textLength="63.5" lengthAdjust="spacingAndGlyphs">兑39一六煞</text>
<text x="281.5" y="511.58" font-size="17.7" fill="#00ff00" textLength="74.4" lengthAdjust="spacingAndGlyphs">未山85五五生</text>
<text x="514.3" y="511.58" font-size="17.7" fill="#00ff00" textLength="62" lengthAdjust="spacingAndGlyphs">离17三天死</text>
<text x="637.8" y="72.92" font-size="18.2" fill="#00ff00" textLength="11.9" lengthAdjust="spacingAndGlyphs">震</text>
<text x="637.8" y="98.22" font-size="18.2" fill="#00ff00" textLength="11.9" lengthAdjust="spacingAndGlyphs">74</text>
<text x="637.8" y="123.52" font-size="18.2" fill="#00ff00" textLength="11.9" lengthAdjust="spacingAndGlyphs">六</text>
<text x="637.8" y="148.82" font-size="18.2" fill="#00ff00" textLength="11.9" lengthAdjust="spacingAndGlyphs">延</text>
<text x="637.8" y="174.12" font-size="18.2" fill="#00ff00" textLength="11.9" lengthAdjust="spacingAndGlyphs">死</text>
<text x="661" y="307.02" font-size="18.2" fill="#00ff00" textLength="11.9" lengthAdjust="spacingAndGlyphs">巽</text>
<text x="661" y="332.22" font-size="18.2" fill="#00ff00" textLength="11.9" lengthAdjust="spacingAndGlyphs">63</text>
<text x="661" y="357.42" font-size="18.2" fill="#00ff00" textLength="11.9" lengthAdjust="spacingAndGlyphs">七</text>
<text x="661" y="382.62" font-size="18.2" fill="#00ff00" textLength="11.9" lengthAdjust="spacingAndGlyphs">伏</text>
<text x="661" y="407.82" font-size="18.2" fill="#00ff00" textLength="11.9" lengthAdjust="spacingAndGlyphs">旺</text>
<text x="332.7" y="62.06" font-size="12.8" fill="#00ff00" textLength="17.6" lengthAdjust="spacingAndGlyphs">阳台</text>
<text x="253" y="137.26" font-size="12.8" fill="#00ff00" textLength="17.6" lengthAdjust="spacingAndGlyphs">厨房</text>
<text x="388.4" y="173.76" font-size="12.8" fill="#00ff00" textLength="17.6" lengthAdjust="spacingAndGlyphs">客厅</text>
<text x="526.7" y="179.46" font-size="12.8" fill="#00ff00" textLength="26.4" lengthAdjust="spacingAndGlyphs">儿子房</text>
<text x="564.2" y="252.86" font-size="12.8" fill="#00ff00" textLength="17.6" lengthAdjust="spacingAndGlyphs">客房</text>
<text x="57.5" y="198.76" font-size="12.8" fill="#00ff00" textLength="17.6" lengthAdjust="spacingAndGlyphs">书房</text>
<text x="172.3" y="226.96" font-size="12.8" fill="#00ff00" textLength="17.6" lengthAdjust="spacingAndGlyphs">餐厅</text>
<text x="255.1" y="356.96" font-size="12.8" fill="#00ff00" textLength="26.4" lengthAdjust="spacingAndGlyphs">洗手间</text>
<text x="324.7" y="366.76" font-size="12.8" fill="#00ff00" textLength="17.6" lengthAdjust="spacingAndGlyphs">客房</text>
<text x="490.5" y="391.66" font-size="12.8" fill="#00ff00" textLength="26.4" lengthAdjust="spacingAndGlyphs">主人房</text>
<text x="576.8" y="360.76" font-size="12.8" fill="#00ff00" textLength="26.4" lengthAdjust="spacingAndGlyphs">洗手间</text>
<text x="590.6" y="429.66" font-size="12.8" fill="#00ff00" textLength="26.4" lengthAdjust="spacingAndGlyphs">卫生间</text>
<text x="269.4" y="429.36" font-size="12.8" fill="#00ff00" textLength="17.6" lengthAdjust="spacingAndGlyphs">厕所</text>
<text x="307.4" y="213.28" font-size="11" fill="#00ff00" textLength="8" lengthAdjust="spacingAndGlyphs">26</text>
<text x="322.8" y="208.68" font-size="11" fill="#00ff00" textLength="8" lengthAdjust="spacingAndGlyphs">28</text>
<text x="295.5" y="223.98" font-size="11" fill="#00ff00" textLength="8" lengthAdjust="spacingAndGlyphs">41</text>
<text x="338.9" y="221.68" font-size="11" fill="#00ff00" textLength="8" lengthAdjust="spacingAndGlyphs">74</text>
<text x="299.3" y="240.98" font-size="11" fill="#00ff00" textLength="8" lengthAdjust="spacingAndGlyphs">39</text>
<text x="337.7" y="238.68" font-size="11" fill="#00ff00" textLength="8" lengthAdjust="spacingAndGlyphs">63</text>
<text x="311.3" y="249.98" font-size="11" fill="#00ff00" textLength="8" lengthAdjust="spacingAndGlyphs">85</text>
<text x="327.6" y="251.28" font-size="11" fill="#00ff00" textLength="8" lengthAdjust="spacingAndGlyphs">17</text>
</svg>
</body></html>
